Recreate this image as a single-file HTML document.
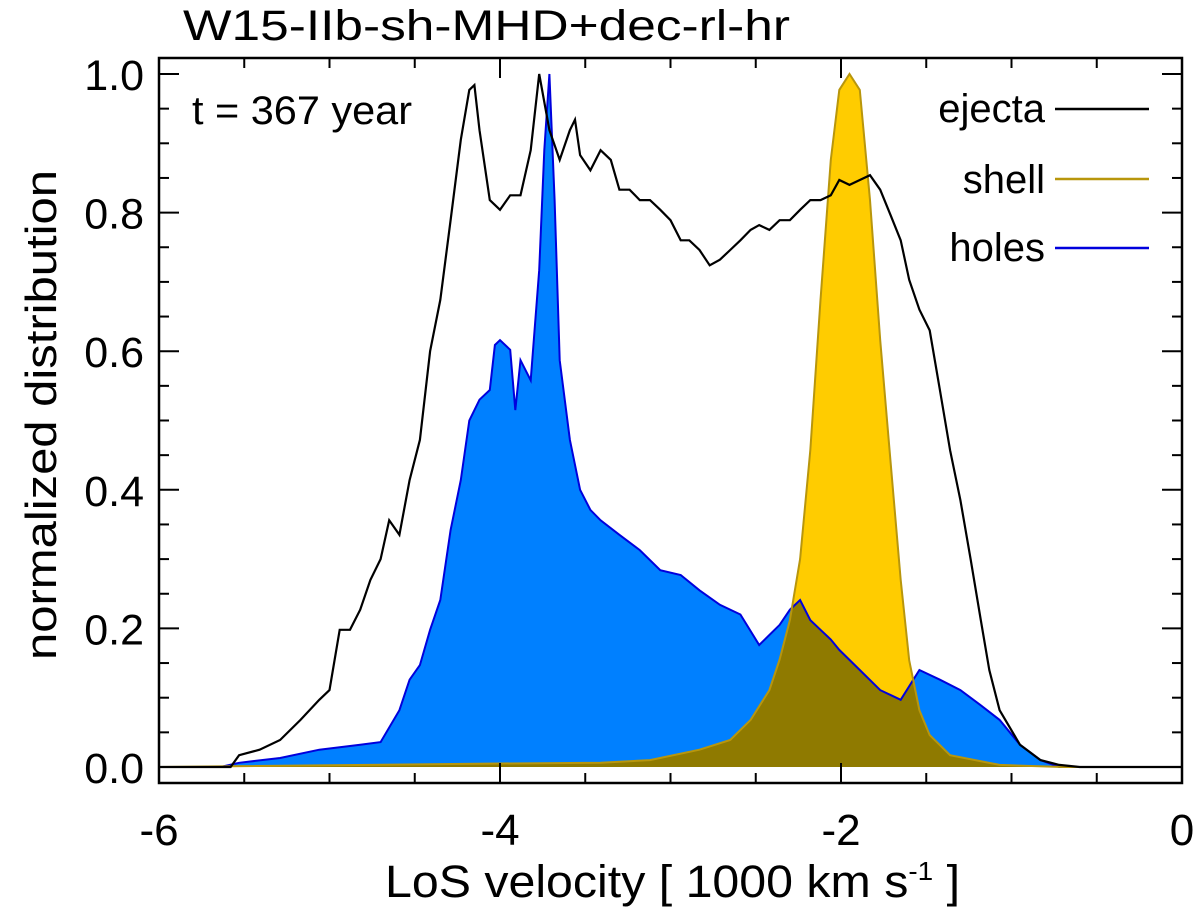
<!DOCTYPE html>
<html><head><meta charset="utf-8"><style>
body{margin:0;background:#fff}
svg text{font-family:"Liberation Sans",sans-serif;fill:#000}
</style></head><body>
<svg id="chart" width="1200" height="914" viewBox="0 0 1200 914" xmlns="http://www.w3.org/2000/svg">
<text x="183" y="40" font-size="43" textLength="607" lengthAdjust="spacingAndGlyphs">W15-IIb-sh-MHD+dec-rl-hr</text>
<g id="marks"></g>
<g id="axes"></g>
<text x="192" y="124" font-size="40" textLength="220" lengthAdjust="spacingAndGlyphs">t = 367 year</text>
<g font-size="40" text-anchor="end">
<text x="1045" y="122">ejecta</text>
<line x1="1055" y1="109" x2="1149" y2="109" stroke="#000" stroke-width="2.5"/>
<text x="1045" y="193">shell</text>
<line x1="1055" y1="179" x2="1149" y2="179" stroke="#b8960c" stroke-width="2.5"/>
<text x="1045" y="261">holes</text>
<line x1="1055" y1="248" x2="1149" y2="248" stroke="#0000dd" stroke-width="2.5"/>
</g>
<text transform="translate(56,415) rotate(-90)" font-size="44" text-anchor="middle" textLength="490" lengthAdjust="spacingAndGlyphs">normalized distribution</text>
<text x="385" y="897" font-size="45" textLength="575" lengthAdjust="spacingAndGlyphs">LoS velocity [ 1000 km s<tspan font-size="26" dy="-17">-1</tspan><tspan dy="17"> ]</tspan></text>
</svg>
<script>
const ejectaV=[-6,-5.58,-5.53,-5.41,-5.29,-5.17,-5.06,-5.0,-4.94,-4.88,-4.82,-4.76,-4.70,-4.65,-4.59,-4.53,-4.47,-4.41,-4.35,-4.29,-4.23,-4.18,-4.15,-4.12,-4.06,-4.0,-3.94,-3.88,-3.82,-3.77,-3.71,-3.65,-3.59,-3.56,-3.53,-3.47,-3.41,-3.35,-3.30,-3.24,-3.18,-3.12,-3.06,-3.0,-2.94,-2.89,-2.83,-2.77,-2.71,-2.65,-2.59,-2.53,-2.48,-2.42,-2.36,-2.30,-2.24,-2.18,-2.12,-2.06,-2.01,-1.95,-1.89,-1.83,-1.77,-1.71,-1.65,-1.60,-1.54,-1.48,-1.42,-1.36,-1.30,-1.24,-1.18,-1.13,-1.07,-0.95,-0.83,-0.72,-0.60,0];
const ejectaY=[0,0,.017,.025,.039,.068,.097,.111,.198,.198,.227,.27,.30,.356,.335,.414,.472,.60,.674,.789,.905,.977,.984,.919,.818,.804,.825,.825,.89,1.0,.919,.876,.919,.934,.883,.861,.89,.876,.833,.833,.818,.818,.804,.789,.76,.76,.746,.724,.732,.746,.76,.775,.782,.775,.789,.789,.804,.818,.818,.825,.847,.84,.847,.854,.833,.797,.76,.703,.66,.63,.544,.457,.385,.30,.212,.14,.082,.032,.01,.003,0,0];
const holesV=[-6,-5.64,-5.53,-5.29,-5.06,-4.82,-4.70,-4.59,-4.53,-4.47,-4.41,-4.35,-4.29,-4.23,-4.18,-4.12,-4.06,-4.03,-4.0,-3.94,-3.91,-3.88,-3.82,-3.77,-3.74,-3.71,-3.68,-3.65,-3.59,-3.53,-3.47,-3.41,-3.30,-3.18,-3.06,-2.94,-2.83,-2.71,-2.59,-2.48,-2.36,-2.30,-2.24,-2.18,-2.12,-2.06,-2.01,-1.89,-1.77,-1.65,-1.54,-1.42,-1.30,-1.18,-1.07,-0.95,-0.83,-0.72,0];
const holesY=[0,0,.006,.013,.025,.032,.036,.082,.126,.147,.198,.241,.342,.414,.5,.53,.544,.609,.616,.602,.515,.587,.558,.717,.89,1.0,.818,.587,.472,.4,.371,.356,.335,.313,.284,.277,.255,.234,.22,.176,.205,.227,.241,.212,.198,.184,.169,.14,.111,.097,.14,.126,.111,.089,.068,.032,.01,0,0];
const shellV=[-6,-4.0,-3.41,-3.12,-2.83,-2.65,-2.53,-2.42,-2.36,-2.30,-2.24,-2.18,-2.12,-2.06,-2.01,-1.95,-1.89,-1.83,-1.77,-1.71,-1.65,-1.60,-1.54,-1.48,-1.36,-1.07,-0.7,0];
const shellY=[0,.005,.006,.01,.025,.039,.068,.111,.155,.212,.3,.457,.674,.876,.977,1.0,.977,.818,.616,.443,.27,.154,.082,.046,.017,.003,0,0];
const xTicks=[-6,-4,-2,0];
const yTicks=[0,0.2,0.4,0.6,0.8,1.0];

const L=159,R=1182,T=58,B=783,Y0=767,Y1=74;
const sx=v=>L+(v+6)/6*(R-L);
const sy=y=>Y0-y*(Y0-Y1);
const NS='http://www.w3.org/2000/svg';
function mk(tag,attrs,parent){const e=document.createElementNS(NS,tag);for(const k in attrs)e.setAttribute(k,attrs[k]);parent.appendChild(e);return e;}
function interp(xs,ys,x){if(x<=xs[0])return ys[0];for(let i=1;i<xs.length;i++){if(x<=xs[i]){const t=(x-xs[i-1])/(xs[i]-xs[i-1]);return ys[i-1]+t*(ys[i]-ys[i-1]);}}return ys[ys.length-1];}
function linePts(xs,ys){return xs.map((v,i)=>sx(v).toFixed(1)+','+sy(ys[i]).toFixed(1)).join(' ');}
function areaPts(xs,ys){return sx(xs[0])+','+sy(0)+' '+linePts(xs,ys)+' '+sx(xs[xs.length-1])+','+sy(0);}
const marks=document.getElementById('marks');
const holes=mk('polygon',{points:areaPts(holesV,holesY),fill:'#0080ff',stroke:'none'},marks);


const shell=mk('polygon',{points:areaPts(shellV,shellY),fill:'#ffcc00',stroke:'none'},marks);


const ox=[],oy=[];for(let v=-6;v<=0.0001;v+=0.01){ox.push(v);oy.push(Math.min(interp(holesV,holesY,v),interp(shellV,shellY,v)));}
const ov=mk('polygon',{points:areaPts(ox,oy),fill:'#8f7a00',stroke:'none'},marks);


const hl=mk('polyline',{points:linePts(holesV,holesY),fill:'none',stroke:'#0000dd','stroke-width':2},marks);


const sl=mk('polyline',{points:linePts(shellV,shellY),fill:'none',stroke:'#b8960c','stroke-width':2},marks);


const el=mk('polyline',{points:linePts(ejectaV,ejectaY),fill:'none',stroke:'#000','stroke-width':2.2},marks);



const ax=document.getElementById('axes');
const fr=mk('rect',{x:L,y:T,width:R-L,height:B-T,fill:'none',stroke:'#000','stroke-width':2.5},ax);


for(let v=-6;v<=0.001;v+=0.5){const x=sx(v);const major=Math.abs(v-Math.round(v/2)*2)<1e-6;const len=major?20:10;
 mk('line',{x1:x,y1:B,x2:x,y2:B-len,stroke:'#000','stroke-width':2},ax);
 mk('line',{x1:x,y1:T,x2:x,y2:T+len,stroke:'#000','stroke-width':2},ax);}
for(let i=0;i<=20;i++){const y=sy(i*0.05);const len=(i%4===0)?20:10;
 mk('line',{x1:L,y1:y,x2:L+len,y2:y,stroke:'#000','stroke-width':2},ax);
 mk('line',{x1:R,y1:y,x2:R-len,y2:y,stroke:'#000','stroke-width':2},ax);}
xTicks.forEach(v=>{const t=mk('text',{x:sx(v),y:845,'font-size':44,'text-anchor':'middle'},ax);t.textContent=String(v);
 
 });
yTicks.forEach(v=>{const t=mk('text',{x:144,y:sy(v)+16,'font-size':43,'text-anchor':'end'},ax);t.textContent=v.toFixed(1);
 
 });
</script>
</body></html>
